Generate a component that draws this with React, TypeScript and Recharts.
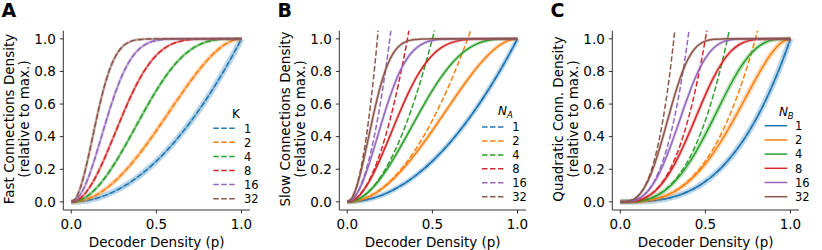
import React from "react"
import { LineChart, Line, XAxis, YAxis, Legend } from "recharts"

// decoder counts (K, N_A, N_B) and their tab10 colours
const nValues = [1, 2, 4, 8, 16, 32]
const colors = ["#1f77b4", "#ff7f0e", "#2ca02c", "#d62728", "#9467bd", "#8c564b"]

// decoder density p (x axis)
const pValues = [
  0, 0.025, 0.05, 0.075, 0.1, 0.125, 0.15, 0.175, 0.2, 0.225, 0.25, 0.275, 0.3, 0.325, 0.35, 0.375,
  0.4, 0.425, 0.45, 0.475, 0.5, 0.55, 0.6, 0.65, 0.7, 0.75, 0.8, 0.85, 0.9, 0.95, 1,
]

// pair connection density (panel A theory + sim, panel B sim), one row per N
const pairDensity = [
  [0, 0.0006, 0.0025, 0.0056, 0.01, 0.0156, 0.0225, 0.0306, 0.04, 0.0506, 0.0625, 0.0756, 0.09, 0.1056, 0.1225, 0.1406, 0.16, 0.1806, 0.2025, 0.2256, 0.25, 0.3025, 0.36, 0.4225, 0.49, 0.5625, 0.64, 0.7225, 0.81, 0.9025, 1],
  [0, 0.0012, 0.005, 0.0112, 0.0199, 0.031, 0.0445, 0.0603, 0.0784, 0.0987, 0.1211, 0.1455, 0.1719, 0.2001, 0.23, 0.2615, 0.2944, 0.3286, 0.364, 0.4003, 0.4375, 0.5135, 0.5904, 0.6665, 0.7399, 0.8086, 0.8704, 0.923, 0.9639, 0.9905, 1],
  [0, 0.0025, 0.01, 0.0223, 0.0394, 0.0611, 0.087, 0.117, 0.1507, 0.1876, 0.2275, 0.2699, 0.3143, 0.3601, 0.4071, 0.4546, 0.5021, 0.5493, 0.5955, 0.6404, 0.6836, 0.7633, 0.8322, 0.8888, 0.9323, 0.9634, 0.9832, 0.9941, 0.9987, 0.9999, 1],
  [0, 0.005, 0.0198, 0.0441, 0.0773, 0.1184, 0.1665, 0.2203, 0.2786, 0.3401, 0.4033, 0.4669, 0.5297, 0.5906, 0.6485, 0.7025, 0.7521, 0.7968, 0.8364, 0.8707, 0.8999, 0.944, 0.9719, 0.9876, 0.9954, 0.9987, 0.9997, 1, 1, 1, 1],
  [0, 0.01, 0.0393, 0.0863, 0.1485, 0.2227, 0.3052, 0.392, 0.4796, 0.5645, 0.6439, 0.7158, 0.7789, 0.8324, 0.8764, 0.9115, 0.9386, 0.9587, 0.9732, 0.9833, 0.99, 0.9969, 0.9992, 0.9998, 1, 1, 1, 1, 1, 1, 1],
  [0, 0.0198, 0.077, 0.1651, 0.275, 0.3959, 0.5172, 0.6304, 0.7292, 0.8103, 0.8732, 0.9193, 0.9511, 0.9719, 0.9847, 0.9922, 0.9962, 0.9983, 0.9993, 0.9997, 0.9999, 1, 1, 1, 1, 1, 1, 1, 1, 1, 1],
]

// panel B dashed approximation (ends just above the top of the axes)
const slowApprox = [
  [0, 0.0006, 0.0025, 0.0056, 0.01, 0.0156, 0.0225, 0.0306, 0.04, 0.0506, 0.0625, 0.0756, 0.09, 0.1056, 0.1225, 0.1406, 0.16, 0.1806, 0.2025, 0.2256, 0.25, 0.3025, 0.36, 0.4225, 0.49, 0.5625, 0.64, 0.7225, 0.81, 0.9025, 1],
  [0, 0.0013, 0.005, 0.0113, 0.02, 0.0313, 0.045, 0.0613, 0.08, 0.1013, 0.125, 0.1513, 0.18, 0.2113, 0.245, 0.2813, 0.32, 0.3613, 0.405, 0.4513, 0.5, 0.605, 0.72, 0.845, 0.98, 1.125],
  [0, 0.0025, 0.01, 0.0225, 0.04, 0.0625, 0.09, 0.1225, 0.16, 0.2025, 0.25, 0.3025, 0.36, 0.4225, 0.49, 0.5625, 0.64, 0.7225, 0.81, 0.9025, 1, 1.21],
  [0, 0.005, 0.02, 0.045, 0.08, 0.125, 0.18, 0.245, 0.32, 0.405, 0.5, 0.605, 0.72, 0.845, 0.98, 1.125],
  [0, 0.01, 0.04, 0.09, 0.16, 0.25, 0.36, 0.49, 0.64, 0.81, 1, 1.21],
  [0, 0.02, 0.08, 0.18, 0.32, 0.5, 0.72, 0.98, 1.28],
]

// panel C simulation
const quadDensity = [
  [0, 0, 0.0001, 0.0004, 0.001, 0.002, 0.0034, 0.0054, 0.008, 0.0114, 0.0156, 0.0208, 0.027, 0.0343, 0.0429, 0.0527, 0.064, 0.0768, 0.0911, 0.1072, 0.125, 0.1664, 0.216, 0.2746, 0.343, 0.4219, 0.512, 0.6141, 0.729, 0.8574, 1],
  [0, 0, 0.0003, 0.0008, 0.002, 0.0039, 0.0067, 0.0107, 0.0159, 0.0227, 0.031, 0.0412, 0.0533, 0.0675, 0.0839, 0.1027, 0.1239, 0.1476, 0.1739, 0.2029, 0.2344, 0.3051, 0.3853, 0.4738, 0.5684, 0.6658, 0.7619, 0.8511, 0.9266, 0.9797, 1],
  [0, 0, 0.0005, 0.0017, 0.004, 0.0078, 0.0134, 0.0213, 0.0316, 0.0448, 0.0611, 0.0806, 0.1037, 0.1304, 0.1608, 0.1948, 0.2325, 0.2735, 0.3176, 0.3646, 0.4138, 0.5171, 0.6222, 0.7231, 0.8137, 0.8883, 0.9433, 0.9778, 0.9946, 0.9996, 1],
  [0, 0, 0.001, 0.0034, 0.008, 0.0155, 0.0267, 0.0421, 0.0622, 0.0876, 0.1186, 0.1548, 0.1966, 0.2438, 0.2957, 0.3517, 0.4109, 0.4722, 0.5344, 0.5962, 0.6564, 0.7668, 0.8573, 0.9234, 0.9653, 0.9875, 0.9968, 0.9995, 1, 1, 1],
  [0, 0.0002, 0.002, 0.0067, 0.0159, 0.0308, 0.0526, 0.0824, 0.1206, 0.1675, 0.2226, 0.2856, 0.3546, 0.4282, 0.504, 0.5797, 0.6529, 0.7214, 0.7832, 0.837, 0.8819, 0.9456, 0.9796, 0.9941, 0.9988, 0.9998, 1, 1, 1, 1, 1],
  [0, 0.0005, 0.004, 0.0134, 0.0315, 0.0606, 0.1025, 0.158, 0.2267, 0.3069, 0.3959, 0.4896, 0.5835, 0.673, 0.754, 0.8234, 0.8795, 0.9224, 0.953, 0.9734, 0.9861, 0.997, 0.9996, 1, 1, 1, 1, 1, 1, 1, 1],
]

// panel C dashed approximation
const quadApprox = [
  [0, 0, 0.0001, 0.0004, 0.001, 0.002, 0.0034, 0.0054, 0.008, 0.0114, 0.0156, 0.0208, 0.027, 0.0343, 0.0429, 0.0527, 0.064, 0.0768, 0.0911, 0.1072, 0.125, 0.1664, 0.216, 0.2746, 0.343, 0.4219, 0.512, 0.6141, 0.729, 0.8574, 1],
  [0, 0, 0.0003, 0.0008, 0.002, 0.0039, 0.0068, 0.0107, 0.016, 0.0228, 0.0313, 0.0416, 0.054, 0.0687, 0.0858, 0.1055, 0.128, 0.1535, 0.1823, 0.2143, 0.25, 0.3328, 0.432, 0.5493, 0.686, 0.8438, 1.024, 1.2283],
  [0, 0.0001, 0.0005, 0.0017, 0.004, 0.0078, 0.0135, 0.0214, 0.032, 0.0456, 0.0625, 0.0832, 0.108, 0.1373, 0.1715, 0.2109, 0.256, 0.3071, 0.3645, 0.4287, 0.5, 0.6655, 0.864, 1.0985],
  [0, 0.0001, 0.001, 0.0034, 0.008, 0.0156, 0.027, 0.0429, 0.064, 0.0911, 0.125, 0.1664, 0.216, 0.2746, 0.343, 0.4219, 0.512, 0.6141, 0.729, 0.8574, 1, 1.331],
  [0, 0.0003, 0.002, 0.0068, 0.016, 0.0313, 0.054, 0.0858, 0.128, 0.1823, 0.25, 0.3328, 0.432, 0.5493, 0.686, 0.8438, 1.024, 1.2283],
  [0, 0.0005, 0.004, 0.0135, 0.032, 0.0625, 0.108, 0.1715, 0.256, 0.3645, 0.5, 0.6655, 0.864, 1.0985],
]

const xTicks = [0, 0.5, 1]
const yTicks = [0, 0.2, 0.4, 0.6, 0.8, 1]

const FONT = "'DejaVu Sans', sans-serif"
const axisStroke = { stroke: "#000", strokeWidth: 0.8 }
const DASH = "5.55 2.4"

const buildRows = (solid: number[][], dashed: number[][]) =>
  pValues.map((p, i) => {
    const row: Record<string, number | undefined> = { p }
    nValues.forEach((n, k) => {
      row["s" + n] = solid[k][i]
      row["d" + n] = dashed[k][i]
    })
    return row
  })

const YTitle = ({ lines, letter }: any) => (
  <g>
    <text x={1.5} y={16.7} fontSize={19} fontWeight="bold" fill="#000" fontFamily={FONT}>
      {letter}
    </text>
    {lines.map((t: string, i: number) => {
      const x = 13.5 + i * 15.7
      return (
        <text key={t} x={x} y={119} transform={`rotate(-90 ${x} 119)`} textAnchor="middle" fontSize={13.5} fill="#000" fontFamily={FONT}>
          {t}
        </text>
      )
    })}
  </g>
)

const XTitle = () => (
  <text x={156.7} y={246.5} textAnchor="middle" fontSize={13.5} fill="#000" fontFamily={FONT}>
    Decoder Density (p)
  </text>
)

const LegendBox = ({ title, dashed, geo }: any) => (
  <svg width={272} height={250} style={{ position: "absolute", left: 0, top: 0, overflow: "visible" }}>
    <text x={geo.titleX} y={geo.titleY} textAnchor="middle" fontSize={12} fill="#000" fontFamily={FONT}>
      {title}
    </text>
    {nValues.map((n, i) => {
      const y = geo.rowY + i * geo.rowStep
      return (
        <g key={n}>
          <line x1={geo.x1} x2={geo.x2} y1={y} y2={y} stroke={colors[i]} strokeWidth={1.5} strokeDasharray={dashed ? DASH : undefined} />
          <text x={geo.textX} y={y + 4.2} fontSize={11.5} fill="#000" fontFamily={FONT}>
            {n}
          </text>
        </g>
      )
    })}
  </svg>
)

const Panel = ({ left, letter, titleLines, solid, dashed, solidOpacity, bandWidths, legendTitle, legendDashed, geo }: any) => {
  const rows = buildRows(solid, dashed)
  return (
    <div style={{ position: "absolute", left, top: 0 }}>
      <LineChart width={262} height={250} data={rows} margin={{ top: 30.7, right: 12, bottom: 0, left: 0 }}>
        <XAxis
          dataKey="p"
          type="number"
          domain={[-0.047, 1.05]}
          allowDataOverflow
          ticks={xTicks}
          tickFormatter={(v: number) => v.toFixed(1)}
          height={40}
          tickSize={3.5}
          tickMargin={6}
          axisLine={axisStroke}
          tickLine={axisStroke}
          tick={{ fill: "#000", fontSize: 13.5, fontFamily: FONT }}
          label={<XTitle />}
        />
        <YAxis
          type="number"
          domain={[-0.05, 1.05]}
          allowDataOverflow
          ticks={yTicks}
          tickFormatter={(v: number) => v.toFixed(1)}
          width={63.3}
          tickSize={3.5}
          tickMargin={4}
          axisLine={axisStroke}
          tickLine={axisStroke}
          tick={{ fill: "#000", fontSize: 13.5, fontFamily: FONT }}
          label={<YTitle lines={titleLines} letter={letter} />}
        />
        {nValues.flatMap((n, k) => [
          <Line key={"b" + n} dataKey={"s" + n} type="monotone" stroke={colors[k]} strokeWidth={bandWidths[k]} strokeOpacity={0.3} dot={false} activeDot={false} legendType="none" isAnimationActive={false} />,
          <Line key={"s" + n} dataKey={"s" + n} type="monotone" stroke={colors[k]} strokeWidth={1.5} strokeOpacity={solidOpacity} dot={false} activeDot={false} legendType="none" isAnimationActive={false} />,
          <Line key={"d" + n} dataKey={"d" + n} type="monotone" stroke={colors[k]} strokeWidth={1.5} strokeDasharray={DASH} dot={false} activeDot={false} legendType="none" isAnimationActive={false} />,
        ])}
        <Legend
          layout="vertical"
          align="center"
          verticalAlign="middle"
          wrapperStyle={{ left: 0, top: 0, width: 262, height: 250 }}
          content={() => <LegendBox title={legendTitle} dashed={legendDashed} geo={geo} />}
        />
      </LineChart>
    </div>
  )
}

const subTitle = (sub: string) => (
  <>
    <tspan fontStyle="italic">N</tspan>
    <tspan fontStyle="italic" fontSize={8.5} dy={3}>
      {sub}
    </tspan>
  </>
)

export default function App() {
  return (
    <div style={{ position: "absolute", left: 0, top: 0, width: 822, height: 250, background: "#fff", fontFamily: FONT }}>
      <Panel
        left={0}
        letter="A"
        titleLines={["Fast Connections Density", "(relative to max.)"]}
        solid={pairDensity}
        dashed={pairDensity}
        solidOpacity={0.5}
        bandWidths={[6, 4.5, 3.5, 3, 3, 3]}
        legendTitle="K"
        legendDashed
        geo={{ titleX: 236, titleY: 118.3, x1: 213.3, x2: 235.7, textX: 244, rowY: 128.3, rowStep: 14.07 }}
      />
      <Panel
        left={275.7}
        letter="B"
        titleLines={["Slow Connections Density", "(relative to max.)"]}
        solid={pairDensity}
        dashed={slowApprox}
        solidOpacity={1}
        bandWidths={[5, 4, 3.5, 3, 3, 3]}
        legendTitle={subTitle("A")}
        legendDashed
        geo={{ titleX: 229.3, titleY: 115.3, x1: 206, x2: 229.3, textX: 236.3, rowY: 127, rowStep: 13.94 }}
      />
      <Panel
        left={549.4}
        letter="C"
        titleLines={["Quadratic Conn. Density", "(relative to max.)"]}
        solid={quadDensity}
        dashed={quadApprox}
        solidOpacity={1}
        bandWidths={[6, 5, 4.5, 3.5, 3, 3]}
        legendTitle={subTitle("B")}
        legendDashed={false}
        geo={{ titleX: 237.3, titleY: 116, x1: 215.6, x2: 238.3, textX: 246, rowY: 125.7, rowStep: 14.2 }}
      />
    </div>
  )
}
